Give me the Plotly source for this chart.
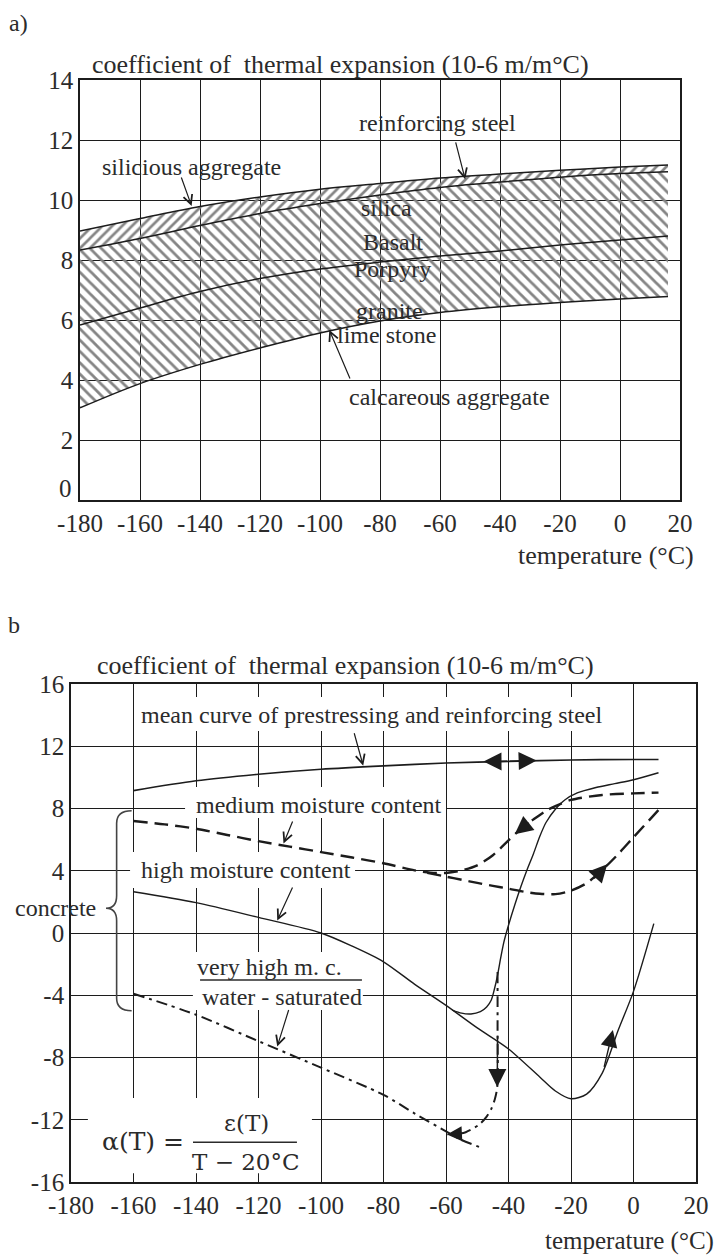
import plotly.graph_objects as go

# ---------------- data: panel a ----------------
temp_a = [-180, -160, -140, -120, -100, -80, -60, -40, -20, 0, 16]
silicious_upper = [8.97, 9.38, 9.78, 10.1, 10.36, 10.55, 10.73, 10.87, 10.99, 11.1, 11.17]
steel_band_lower = [8.33, 8.72, 9.15, 9.55, 9.88, 10.17, 10.42, 10.6, 10.76, 10.88, 10.94]
basalt_porphyry = [5.83, 6.4, 6.95, 7.38, 7.7, 7.93, 8.13, 8.3, 8.5, 8.67, 8.8]
calcareous_lower = [3.07, 3.88, 4.52, 5.07, 5.57, 5.97, 6.25, 6.44, 6.58, 6.7, 6.78]

x_tick_vals = [-180, -160, -140, -120, -100, -80, -60, -40, -20, 0, 20]
x_tick_text = ["-180", "-160", "-140", "-120", "-100", "-80", "-60", "-40", "-20", "0", "20"]
y_tick_vals_a = [0, 2, 4, 6, 8, 10, 12, 14]
y_tick_text_a = ["0", "2", "4", "6", "8", "10", "12", "14"]

# ---------------- data: panel b ----------------
steel_t = [-160, -140, -120, -100, -80, -60, -40, -20, 0, 8]
steel_alpha = [9.15, 9.78, 10.2, 10.52, 10.74, 10.92, 11.03, 11.12, 11.15, 11.15]

medium_t = [-160, -150, -140, -130, -120, -110, -100, -90, -80, -70, -65, -60, -55, -50, -45, -40,
            -36, -32, -28, -25, -20, -10, 0, 8]
medium_alpha = [7.2, 6.98, 6.7, 6.3, 5.9, 5.55, 5.2, 4.85, 4.48, 4.02, 3.88, 3.86, 4.02, 4.35, 5.0,
                5.95, 6.7, 7.3, 7.85, 8.15, 8.55, 8.87, 8.97, 9.02]
medium_heat_t = [-66, -60, -55, -50, -45, -40, -35, -30, -25, -20, -15, -10, -5, 0, 8]
medium_heat_alpha = [3.86, 3.62, 3.42, 3.22, 3.03, 2.85, 2.65, 2.52, 2.5, 2.72, 3.2, 4.05, 5.05, 6.15, 7.9]

high_t = [-160, -140, -120, -100, -90, -80, -70, -60, -50, -40, -30, -25, -20, -15, -10, -5, 0, 6.5]
high_alpha = [2.65, 1.95, 1.0, 0.0, -0.85, -1.85, -3.3, -4.65, -6.1, -7.45, -9.25, -10.15, -10.65,
              -10.35, -9.0, -6.3, -3.75, 0.6]
high_cool_t = [-58, -55, -52, -49, -47, -45.5, -44.5, -43.5, -42.5, -41.5, -40, -38, -36, -34, -32,
               -30, -28, -25, -22, -18, -12, -6, 0, 8]
high_cool_alpha = [-4.95, -5.15, -5.2, -5.05, -4.75, -4.3, -3.6, -2.7, -1.6, -0.6, 0.5, 1.8, 3.0, 4.1,
                   5.1, 6.2, 7.1, 7.95, 8.55, 9.0, 9.35, 9.6, 9.85, 10.3]

saturated_t = [-160, -140, -120, -100, -80, -70, -60, -55, -48]
saturated_alpha = [-3.9, -5.25, -6.95, -8.65, -10.4, -11.6, -12.75, -13.3, -13.85]
saturated_cool_t = [-43.5, -43.5, -43.6, -44.4, -45.5, -47, -49.3, -53.7, -58, -59.7]
saturated_cool_alpha = [-2.5, -6.0, -9.9, -10.7, -11.3, -11.8, -12.3, -12.8, -12.95, -12.95]

y_tick_vals_b = [-16, -12, -8, -4, 0, 4, 8, 12, 16]
y_tick_text_b = ["-16", "-12", "-8", "-4", "0", "4", "8", "12", "16"]

# ---------------- styling helpers ----------------
W, H = 725, 1259
SERIF = "Liberation Serif"
INK = "#1c1c1c"
TXT = "#2b2b2b"
HATCH = "#858585"


def px(xp):
    return xp / W


def py(yp):
    return 1 - yp / H


fig = go.Figure()

# ----- panel a: hatched bands -----
fig.add_trace(go.Scatter(
    x=temp_a + temp_a[::-1], y=silicious_upper + steel_band_lower[::-1],
    fill="toself", mode="lines", line=dict(width=0), fillcolor="rgba(0,0,0,0)",
    fillpattern=dict(shape="/", fgcolor=HATCH, bgcolor="rgba(0,0,0,0)", size=7, solidity=0.38),
    xaxis="x", yaxis="y", hoverinfo="skip", showlegend=False))
fig.add_trace(go.Scatter(
    x=temp_a + temp_a[::-1], y=steel_band_lower + calcareous_lower[::-1],
    fill="toself", mode="lines", line=dict(width=0), fillcolor="rgba(0,0,0,0)",
    fillpattern=dict(shape="\\", fgcolor=HATCH, bgcolor="rgba(0,0,0,0)", size=8, solidity=0.35),
    xaxis="x", yaxis="y", hoverinfo="skip", showlegend=False))

for series in [silicious_upper, steel_band_lower, basalt_porphyry, calcareous_lower]:
    fig.add_trace(go.Scatter(x=temp_a, y=series, mode="lines",
                             line=dict(color=INK, width=1.5, shape="spline", smoothing=1.0),
                             xaxis="x", yaxis="y", hoverinfo="skip", showlegend=False))


# ----- panel b curves -----
def curve(t, a, dash="solid", width=1.4):
    fig.add_trace(go.Scatter(x=t, y=a, mode="lines",
                             line=dict(color=INK, width=width, dash=dash, shape="spline", smoothing=0.8),
                             xaxis="x2", yaxis="y2", hoverinfo="skip", showlegend=False))


curve(steel_t, steel_alpha, width=1.6)
curve(medium_t, medium_alpha, dash="14px,7px", width=2.4)
curve(medium_heat_t, medium_heat_alpha, dash="14px,7px", width=2.4)
curve(high_t, high_alpha, width=1.4)
curve(high_cool_t, high_cool_alpha, width=1.4)
curve(saturated_t, saturated_alpha, dash="11px,5px,3px,5px", width=2.0)
curve(saturated_cool_t, saturated_cool_alpha, dash="11px,5px,3px,5px", width=2.0)

# ---------------- axes ----------------
axis_common = dict(showline=True, mirror=True, linecolor=INK, linewidth=1.6,
                   showgrid=True, gridcolor=INK, gridwidth=1.2, zeroline=False, automargin=False,
                   ticks="", tickfont=dict(family=SERIF, size=25, color=TXT), fixedrange=True)

fig.update_layout(
    template="none",
    width=W, height=H, margin=dict(l=0, r=0, t=0, b=0, pad=0, autoexpand=False),
    paper_bgcolor="white", plot_bgcolor="white", showlegend=False,
    xaxis=dict(domain=[px(80), px(680)], range=[-180, 20], tickvals=x_tick_vals, ticktext=x_tick_text,
               anchor="y", **axis_common),
    yaxis=dict(domain=[py(500), py(80)], range=[0, 14], tickvals=y_tick_vals_a[1:],
               ticktext=y_tick_text_a[1:], anchor="x", **axis_common),
    xaxis2=dict(domain=[px(71), px(696)], range=[-180, 20], tickvals=x_tick_vals, ticktext=x_tick_text,
                anchor="y2", **axis_common),
    yaxis2=dict(domain=[py(1182), py(684)], range=[-16, 16], tickvals=y_tick_vals_b, ticktext=y_tick_text_b,
                anchor="x2", **axis_common),
)

# ---------------- shapes ----------------
shapes = []
for (x0, x1, y0, y1) in [(-158.9, -8.5, 12.98, 15.16),
                         (-143.5, -60.0, 7.39, 9.38),
                         (-161.1, -89.1, 2.89, 5.2),
                         (-141.0, -86.6, -4.95, -1.22)]:
    shapes.append(dict(type="rect", xref="x2", yref="y2", x0=x0, x1=x1, y0=y0, y1=y1,
                       fillcolor="white", line=dict(width=0), layer="between"))
shapes.append(dict(type="rect", xref="x2", yref="y2", x0=-174.6, x1=-102.9, y0=-15.44, y1=-10.6,
                   fillcolor="white", line=dict(width=0), layer="above"))
shapes.append(dict(type="line", xref="x2", yref="y2", x0=-140.96, x1=-107.7, y0=-13.45, y1=-13.45,
                   line=dict(color=TXT, width=1.5), layer="above"))
shapes.append(dict(type="line", xref="x2", yref="y2", x0=-138.7, x1=-86.9, y0=-3.02, y1=-3.02,
                   line=dict(color=TXT, width=1.5), layer="above"))
bx_end, bx_v, bx_tip = -160.6, -165.4, -168.8
by_top, by_tip, by_bot = 7.86, 1.59, -5.0
brace = (f"M {bx_end},{by_top} Q {bx_v},{by_top} {bx_v},{by_top - 0.8} "
         f"L {bx_v},{by_tip + 0.8} Q {bx_v},{by_tip} {bx_tip},{by_tip} "
         f"Q {bx_v},{by_tip} {bx_v},{by_tip - 0.8} "
         f"L {bx_v},{by_bot + 0.8} Q {bx_v},{by_bot} {bx_end},{by_bot}")
shapes.append(dict(type="path", xref="x2", yref="y2", path=brace,
                   line=dict(color="#444", width=1.6), layer="above"))
fig.update_layout(shapes=shapes)

# ---------------- annotations ----------------
ann = []


def text(x, y, s, xref="x", yref="y", size=24, xanchor="center", family=SERIF):
    ann.append(dict(x=x, y=y, xref=xref, yref=yref, text=s, showarrow=False, xanchor=xanchor,
                    yanchor="middle", font=dict(family=family, size=size, color=TXT)))


def arrow(x, y, ax, ay, xref="x", yref="y", head=5, size=1.5, width=1.2):
    ann.append(dict(x=x, y=y, ax=ax, ay=ay, xref=xref, yref=yref, axref=xref, ayref=yref, text="",
                    showarrow=True, arrowhead=head, arrowsize=size, arrowwidth=width, arrowcolor=INK,
                    standoff=0, startstandoff=0))


# panel a
text(px(18), py(23), "a)", "paper", "paper", size=24)
text(px(340), py(64), "coefficient of  thermal expansion (10-6 m/m°C)", "paper", "paper", size=26)
text(px(696), py(555), "temperature (°C)", "paper", "paper", size=26, xanchor="right")
text(px(74), py(488), y_tick_text_a[0], "paper", "paper", size=25, xanchor="right")
text(-60.7, 12.57, "reinforcing steel")
text(-142.8, 11.1, "silicious aggregate")
text(-77.7, 9.73, "silica")
text(-75.7, 8.6, "Basalt")
text(-76.0, 7.7, "Porpyry")
text(-76.7, 6.3, "granite")
text(-77.7, 5.5, "lime stone")
text(-57.0, 3.43, "calcareous aggregate")
arrow(-51.6, 10.69, -54.9, 11.97)
arrow(-142.8, 9.8, -146.4, 10.8)
arrow(-96.9, 5.67, -89.8, 4.0)

# panel b
text(px(14), py(625), "b", "paper", "paper", size=24)
text(px(345), py(665), "coefficient of  thermal expansion (10-6 m/m°C)", "paper", "paper", size=26)
text(px(716), py(1241), "temperature (°C)", "paper", "paper", size=25, xanchor="right")
text(px(55), py(908), "concrete", "paper", "paper", size=24)
text(-83.7, 14.0, "mean curve of prestressing and reinforcing steel", "x2", "y2")
text(-100.6, 8.22, "medium moisture content", "x2", "y2")
text(-124.0, 4.05, "high moisture content", "x2", "y2")
text(-116.6, -2.17, "very high m. c.", "x2", "y2")
text(-112.5, -4.1, "water - saturated", "x2", "y2")
text(-157.0, -13.41, "α(T) =", "x2", "y2", size=25, family="DejaVu Serif")
text(-124.0, -12.23, "ε(T)", "x2", "y2", size=23, family="DejaVu Serif")
text(-124.0, -14.7, "T − 20°C", "x2", "y2", size=23, family="DejaVu Serif")

arrow(-86.5, 10.75, -89.5, 12.93, "x2", "y2")
arrow(-112.0, 5.75, -108.9, 7.26, "x2", "y2")
arrow(-114.0, 0.8, -108.9, 3.02, "x2", "y2")
arrow(-114.0, -7.3, -110.2, -4.85, "x2", "y2")
arrow(-48.0, 11.02, -40.0, 11.03, "x2", "y2", head=2, size=2.4, width=1.5)
arrow(-31.0, 11.08, -40.0, 11.03, "x2", "y2", head=2, size=2.4, width=1.5)
arrow(-38.0, 6.35, -33.0, 7.15, "x2", "y2", head=2, size=2.4, width=1.5)
arrow(-8.4, 4.42, -13.0, 3.4, "x2", "y2", head=2, size=2.4, width=1.5)
arrow(-6.6, -6.24, -9.5, -8.7, "x2", "y2", head=2, size=2.4, width=1.4)
arrow(-43.6, -9.9, -43.5, -6.5, "x2", "y2", head=2, size=2.4, width=1.5)
arrow(-59.7, -12.95, -55.0, -12.9, "x2", "y2", head=2, size=2.0, width=1.5)

fig.update_layout(annotations=ann)
fig.write_html("out.html", config={"displayModeBar": False},
               post_script="document.body.style.margin='0px';")
